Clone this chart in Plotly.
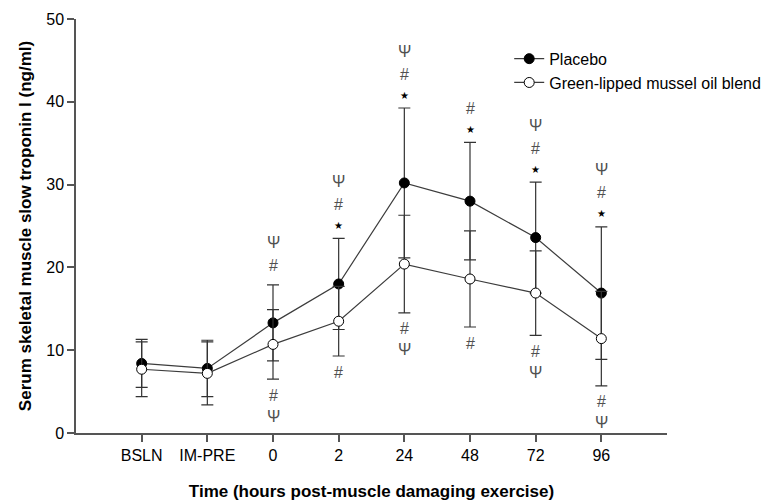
import plotly.graph_objects as go

categories = ["BSLN", "IM-PRE", "0", "2", "24", "48", "72", "96"]
placebo_mean = [8.4, 7.8, 13.3, 18.0, 30.2, 28.0, 23.6, 16.9]
placebo_sd = [2.9, 3.4, 4.6, 5.5, 9.05, 7.1, 6.7, 8.0]
glm_mean = [7.7, 7.2, 10.7, 13.5, 20.4, 18.6, 16.9, 11.4]
glm_sd = [3.3, 3.8, 4.2, 4.2, 5.9, 5.8, 5.1, 5.7]

# significance symbols: above placebo upper bars (bottom-up), below GLM lower bars (top-down)
above_symbols = [[], [], ["#", "Ψ"], ["*", "#", "Ψ"], ["*", "#", "Ψ"], ["*", "#"], ["*", "#", "Ψ"], ["*", "#", "Ψ"]]
below_symbols = [[], [], ["#", "Ψ"], ["#"], ["#", "Ψ"], ["#"], ["#", "Ψ"], ["#", "Ψ"]]

y_ticks = [0, 10, 20, 30, 40, 50]

LINE = "#3c3c3c"
AX = "#555555"
FONT = "Liberation Sans, Arial, sans-serif"

fig = go.Figure()
fig.add_trace(go.Scatter(
    x=categories, y=placebo_mean, name="Placebo", mode="lines+markers",
    line=dict(color=LINE, width=1.2),
    marker=dict(size=10, color="black", line=dict(color="black", width=1)),
    error_y=dict(type="data", array=placebo_sd, visible=True, color="#333333", thickness=1.2, width=6),
))
fig.add_trace(go.Scatter(
    x=categories, y=glm_mean, name="Green-lipped mussel oil blend", mode="lines+markers",
    line=dict(color=LINE, width=1.2),
    marker=dict(size=10, color="white", line=dict(color="black", width=1)),
    error_y=dict(type="data", array=glm_sd, visible=True, color="#333333", thickness=1.2, width=6),
))

annotations = []
for i, cat in enumerate(categories):
    top = placebo_mean[i] + placebo_sd[i]
    off = 0
    prev = None
    for s in above_symbols[i]:
        if prev is None:
            off = 13 if s == "*" else 19
        else:
            off += 21 if s == "#" else 23
        prev = s
        if s == "*":
            txt, col, sz = "★", "black", 10
        else:
            txt, col, sz = s, "#505050", 16
        annotations.append(dict(x=i, y=top, xref="x", yref="y", text=txt, showarrow=False,
                                yshift=off, font=dict(size=sz, color=col, family=FONT),
                                xanchor="center", yanchor="middle"))
    bot = glm_mean[i] - glm_sd[i]
    for k, s in enumerate(below_symbols[i]):
        off = 16 if k == 0 else 37
        annotations.append(dict(x=i, y=bot, xref="x", yref="y", text=s, showarrow=False,
                                yshift=-off, font=dict(size=16, color="#505050", family=FONT),
                                xanchor="center", yanchor="middle"))

fig.update_layout(
    width=767, height=502,
    margin=dict(l=76, r=100, t=19, b=69, autoexpand=False),
    paper_bgcolor="white", plot_bgcolor="white",
    font=dict(family=FONT, size=16, color="black"),
    showlegend=True,
    legend=dict(x=0.733, y=0.945, xanchor="left", yanchor="top", bgcolor="rgba(0,0,0,0)",
                font=dict(size=16, family=FONT), tracegroupgap=0, itemwidth=30),
    annotations=annotations,
    xaxis=dict(
        type="category", range=[-1, 8], showgrid=False, zeroline=False, automargin=False,
        showline=True, linecolor=AX, linewidth=1.5,
        ticks="outside", ticklen=7, tickcolor=AX, tickwidth=1.5,
        tickfont=dict(size=16, family=FONT),
        title=dict(text="<b>Time (hours post-muscle damaging exercise)</b>", font=dict(size=17, family=FONT), standoff=22),
    ),
    yaxis=dict(
        range=[0, 50], tickvals=y_ticks, showgrid=False, zeroline=False, automargin=False,
        showline=True, linecolor=AX, linewidth=1.5,
        ticks="outside", ticklen=7, tickcolor=AX, tickwidth=1.5,
        tickfont=dict(size=16, family=FONT),
        title=dict(text="<b>Serum skeletal muscle slow troponin I (ng/ml)</b>", font=dict(size=17, family=FONT), standoff=10),
    ),
)

fig.write_html("out.html", config={"displayModeBar": False},
               post_script="document.body.style.margin='0';document.body.style.overflow='hidden';")
